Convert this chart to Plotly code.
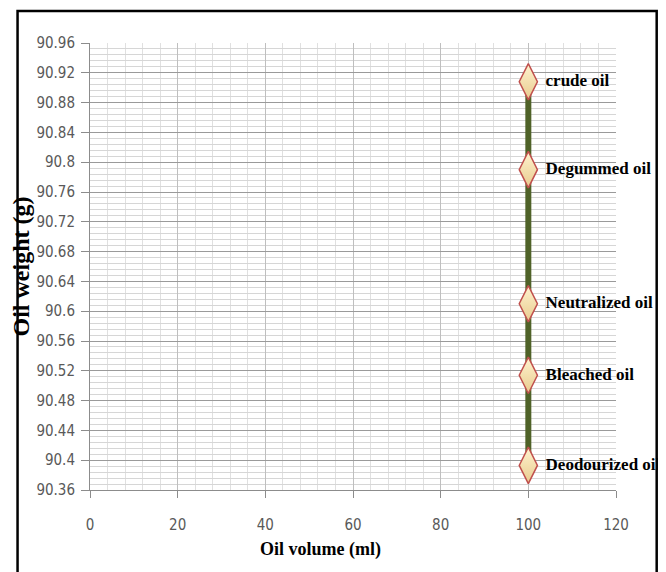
import plotly.graph_objects as go

stages = ["crude oil", "Degummed oil", "Neutralized oil", "Bleached oil", "Deodourized oil"]
oil_volume = [100, 100, 100, 100, 100]
oil_weight = [90.908, 90.79, 90.61, 90.514, 90.393]

x_ticks = [0, 20, 40, 60, 80, 100, 120]
y_ticks = [90.36, 90.4, 90.44, 90.48, 90.52, 90.56, 90.6, 90.64, 90.68,
           90.72, 90.76, 90.8, 90.84, 90.88, 90.92, 90.96]
y_tick_text = ["90.36", "90.4", "90.44", "90.48", "90.52", "90.56", "90.6", "90.64",
               "90.68", "90.72", "90.76", "90.8", "90.84", "90.88", "90.92", "90.96"]

# page has an 8px body margin; figure coords = page coords - 8
OFF = 8
W, H = 666 - OFF, 572 - OFF
L, T = 86 - OFF, 43 - OFF
R = W - (616 - OFF)
B = H - (490 - OFF)
pw, ph = W - L - R, H - T - B


def px_x(page_x):
    return (page_x - OFF - L) / pw


def px_y(page_y):
    return (H - B - (page_y - OFF)) / ph


fig = go.Figure()
fig.add_trace(go.Scatter(
    x=oil_volume, y=oil_weight,
    mode="lines+markers+text",
    text=stages,
    textposition="middle right",
    textfont=dict(family="Liberation Serif, Times New Roman, serif", size=17,
                  color="black", weight="bold"),
    line=dict(color="#4F6228", width=6),
    marker=dict(symbol="diamond-tall", size=26, color="#FFF3CF",
                gradient=dict(type="vertical", color="#E8CB8E"),
                line=dict(color="#C0504D", width=1.5)),
    cliponaxis=False,
    showlegend=False,
))

tick_font = dict(family="Liberation Sans Narrow, Arial Narrow, DejaVu Sans Condensed, sans-serif",
                 size=15, color="#595959")

fig.update_xaxes(
    range=[0, 120], tickvals=x_ticks, ticktext=[str(v) for v in x_ticks],
    ticks="outside", ticklen=7, tickcolor="#8c8c8c", tickwidth=1,
    ticklabelstandoff=14,
    showline=True, linecolor="#8c8c8c", linewidth=1,
    showgrid=True, gridcolor="#bfbfbf", gridwidth=1,
    minor=dict(dtick=4, showgrid=True, gridcolor="#e0e0e0", gridwidth=1),
    zeroline=False, tickfont=tick_font,
)
fig.update_yaxes(
    range=[90.36, 90.96], tickvals=y_ticks, ticktext=y_tick_text,
    ticks="outside", ticklen=8, tickcolor="#8c8c8c", tickwidth=1,
    ticklabelstandoff=3,
    showline=True, linecolor="#8c8c8c", linewidth=1,
    showgrid=True, gridcolor="#9a9a9a", gridwidth=1,
    minor=dict(dtick=0.008, tick0=90.36, showgrid=True, gridcolor="#d6d6d6", gridwidth=1),
    zeroline=False, tickfont=tick_font,
    title=dict(text="<b>Oil weight (g)</b>", standoff=0,
               font=dict(family="Liberation Serif, Times New Roman, serif", size=24, color="black")),
)

fig.add_annotation(
    text="<b>Oil volume (ml)</b>", xref="paper", yref="paper",
    x=px_x(318.5), y=px_y(549), xanchor="center", yanchor="middle",
    showarrow=False,
    font=dict(family="Liberation Serif, Times New Roman, serif", size=18, color="black"),
)

fig.add_shape(
    type="rect", xref="paper", yref="paper",
    x0=px_x(13), x1=px_x(657),
    y0=px_y(585), y1=px_y(11),
    line=dict(color="black", width=2.5), fillcolor="rgba(0,0,0,0)", layer="above",
)

fig.update_layout(
    width=W, height=H,
    margin=dict(l=L, r=R, t=T, b=B),
    paper_bgcolor="white", plot_bgcolor="white",
)

fig.write_html("out.html")
